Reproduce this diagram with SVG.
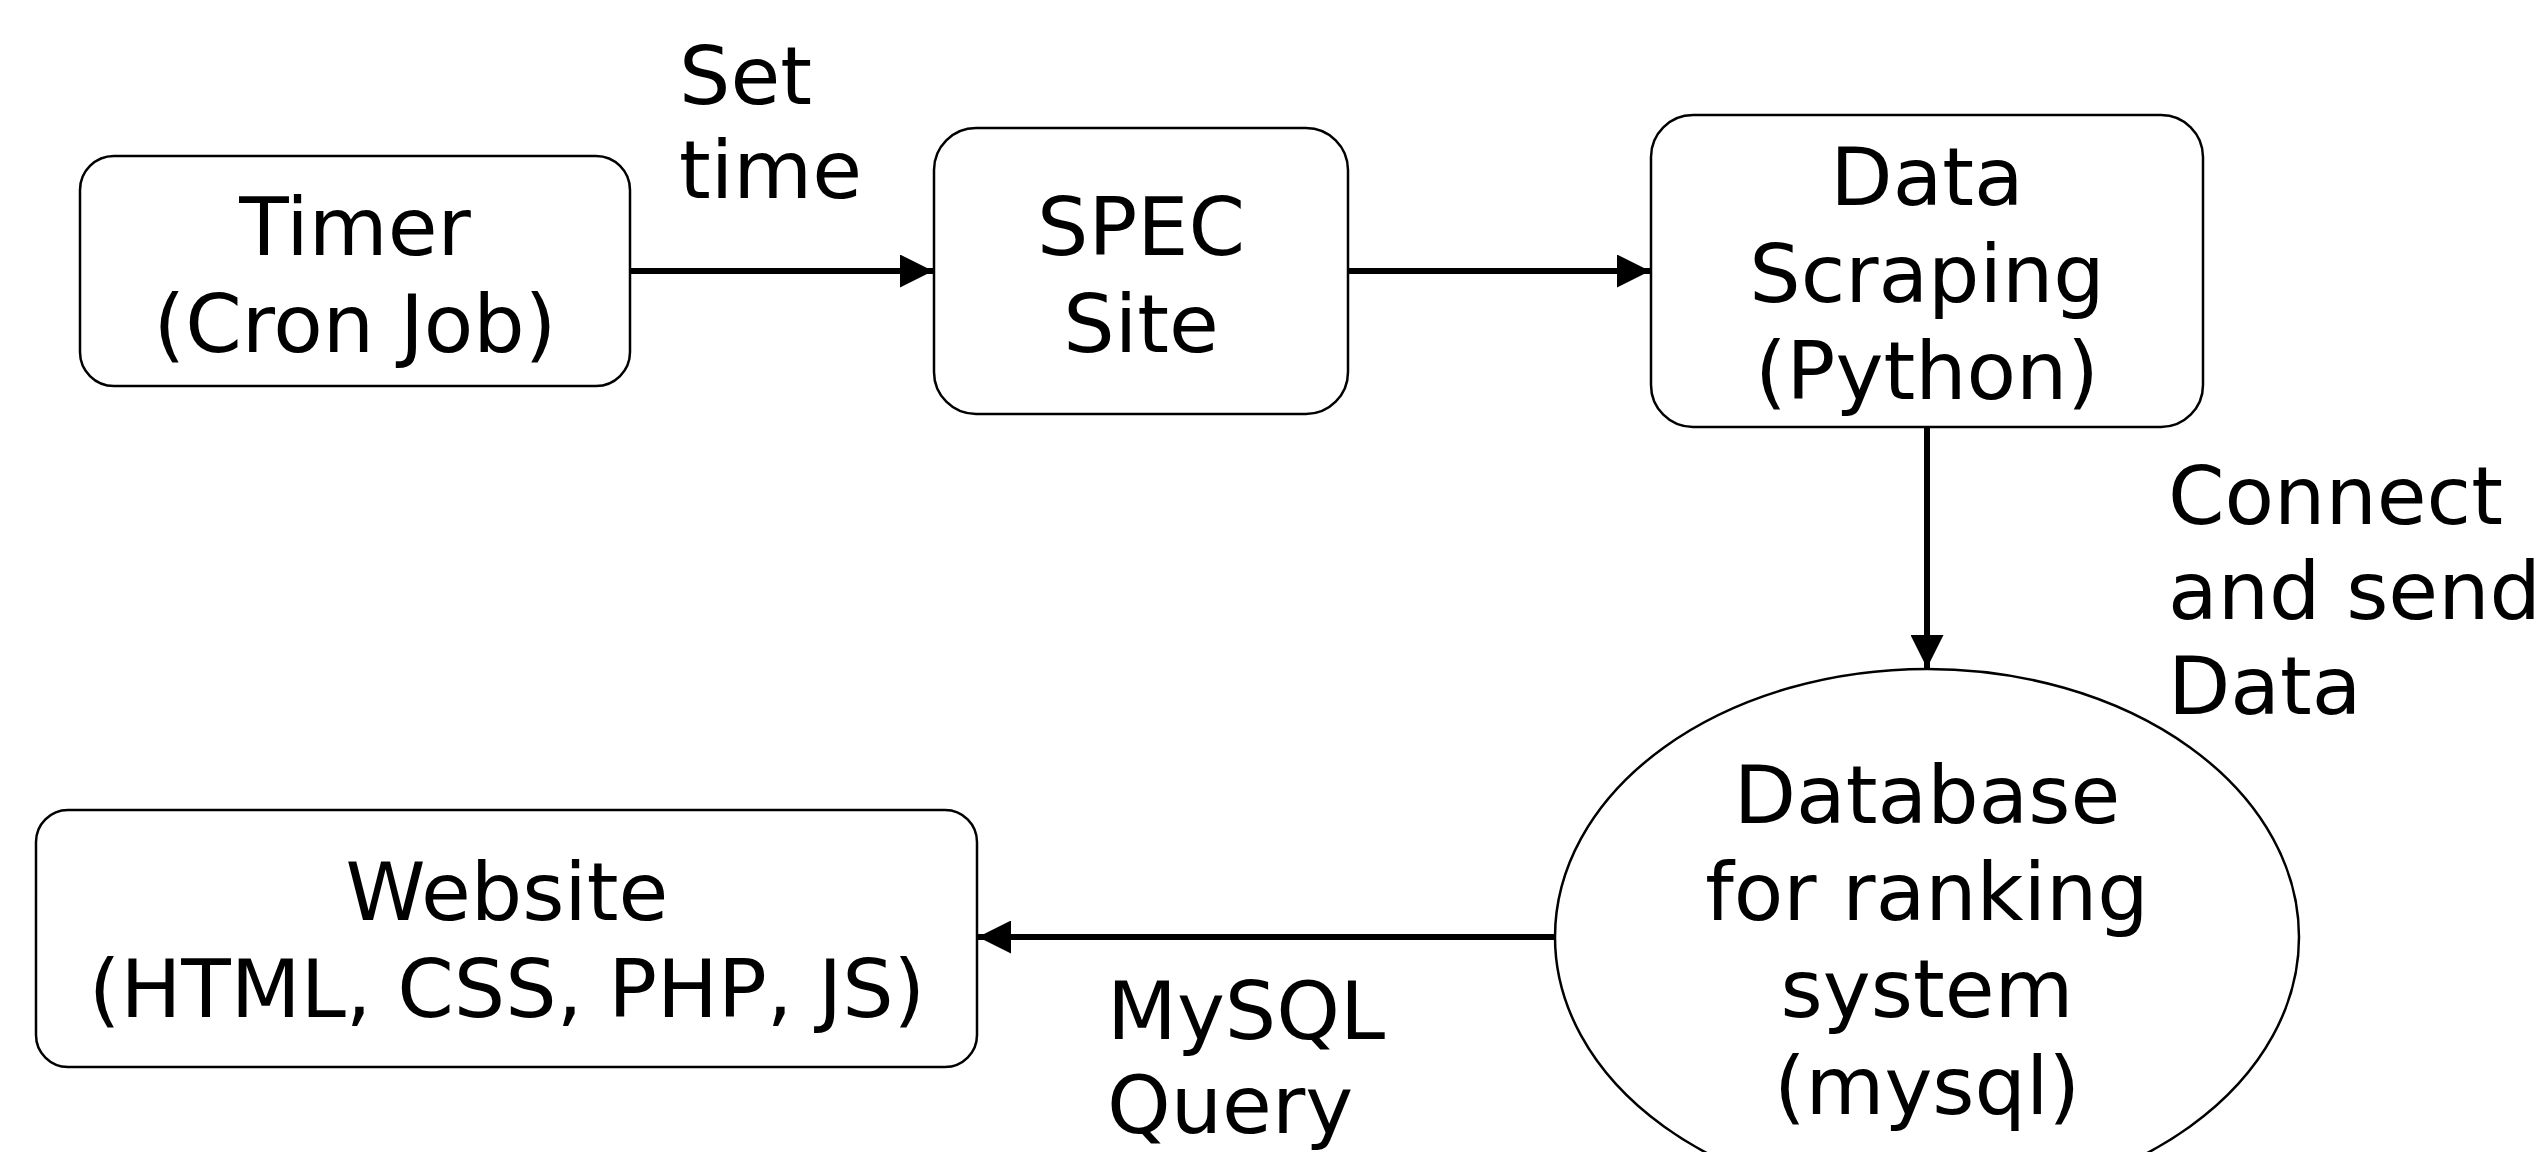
<svg xmlns="http://www.w3.org/2000/svg" width="2546" height="1152" viewBox="0 0 2546 1152">
<style>
.box{fill:#fff;stroke:#000;stroke-width:2.5}
.t{font-family:"DejaVu Sans","Liberation Sans",sans-serif;font-size:81px;fill:#000}
.c{text-anchor:middle}
.edge{stroke:#000;stroke-width:6;fill:none}
</style>
<defs>
<marker id="ah" viewBox="0 0 10 10" refX="10" refY="5" markerWidth="7.5" markerHeight="5.5" markerUnits="strokeWidth" orient="auto">
<path d="M0,0 L10,5 L0,10 Z" fill="#000"/>
</marker>
</defs>
<rect width="2546" height="1152" fill="#fff"/>
<g id="connectors">
<line class="edge" x1="630" y1="271" x2="933" y2="271" marker-end="url(#ah)"/>
<line class="edge" x1="1348" y1="271" x2="1650" y2="271" marker-end="url(#ah)"/>
<line class="edge" x1="1927" y1="427" x2="1927" y2="668" marker-end="url(#ah)"/>
<line class="edge" x1="1556" y1="937" x2="978" y2="937" marker-end="url(#ah)"/>
</g>
<g id="timer">
<rect class="box" x="80" y="156" width="550" height="230" rx="34"/>
<text class="t c" x="355" y="255">Timer</text>
<text class="t c" x="355" y="352">(Cron Job)</text>
</g>
<g id="spec">
<rect class="box" x="934" y="128" width="414" height="286" rx="42"/>
<text class="t c" x="1141" y="255">SPEC</text>
<text class="t c" x="1141" y="352">Site</text>
</g>
<g id="scraping">
<rect class="box" x="1651" y="115" width="552" height="312" rx="42"/>
<text class="t c" x="1927" y="205">Data</text>
<text class="t c" x="1927" y="302">Scraping</text>
<text class="t c" x="1927" y="399">(Python)</text>
</g>
<g id="database">
<ellipse class="box" cx="1927" cy="937" rx="372" ry="268"/>
<text class="t c" x="1927" y="823">Database</text>
<text class="t c" x="1927" y="920">for ranking</text>
<text class="t c" x="1927" y="1017">system</text>
<text class="t c" x="1927" y="1114">(mysql)</text>
</g>
<g id="website">
<rect class="box" x="36" y="810" width="941" height="257" rx="32"/>
<text class="t c" x="507" y="920">Website</text>
<text class="t c" x="507" y="1017">(HTML, CSS, PHP, JS)</text>
</g>
<g id="labels">
<text class="t" x="679" y="104">Set</text>
<text class="t" x="679" y="198">time</text>
<text class="t" x="2168" y="524">Connect</text>
<text class="t" x="2168" y="619">and send</text>
<text class="t" x="2168" y="714">Data</text>
<text class="t" x="1107" y="1039">MySQL</text>
<text class="t" x="1107" y="1133">Query</text>
</g>
</svg>
